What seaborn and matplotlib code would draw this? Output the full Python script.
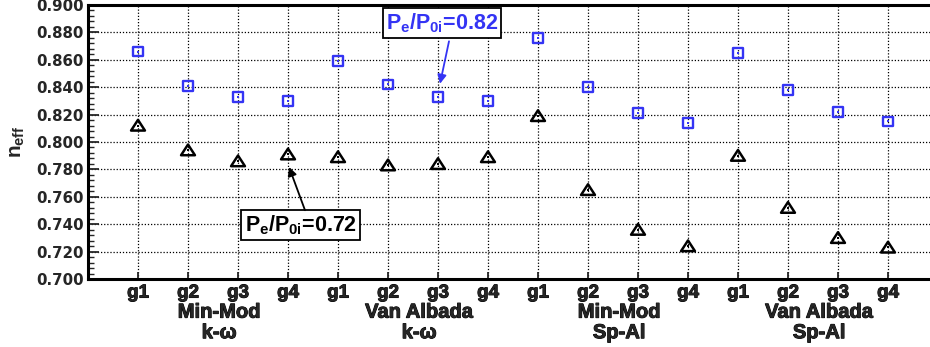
import numpy as np
import pandas as pd
import matplotlib
matplotlib.use("Agg")
import matplotlib.pyplot as plt
import matplotlib.patheffects as pe
import seaborn as sns
from matplotlib.ticker import MultipleLocator, FormatStrFormatter
from matplotlib.path import Path

# ---------------- data ----------------
grid_labels = ["g1", "g2", "g3", "g4"] * 4
group_labels = ["Min-Mod\nk-\u03c9", "Van Albada\nk-\u03c9", "Min-Mod\nSp-Al", "Van Albada\nSp-Al"]
neff_082 = [0.866, 0.841, 0.833, 0.830,
            0.859, 0.842, 0.833, 0.830,
            0.876, 0.840, 0.821, 0.814,
            0.865, 0.838, 0.822, 0.815]
neff_072 = [0.812, 0.794, 0.786, 0.791,
            0.789, 0.783, 0.784, 0.789,
            0.819, 0.765, 0.736, 0.724,
            0.790, 0.752, 0.730, 0.723]
label_082 = r"$P_e/P_{0i}$=0.82"
label_072 = r"$P_e/P_{0i}$=0.72"

positions = np.arange(1, len(grid_labels) + 1)
df = pd.DataFrame({
    "pos": np.concatenate([positions, positions]),
    "neff": neff_082 + neff_072,
    "case": ["0.82"] * len(positions) + ["0.72"] * len(positions),
})

# ---------------- style ----------------
sns.set_theme(style="white")
plt.rcParams["font.family"] = ["Liberation Sans", "DejaVu Sans"]
plt.rcParams["font.weight"] = "bold"
plt.rcParams["mathtext.fontset"] = "custom"
plt.rcParams["mathtext.rm"] = "Liberation Sans:bold"
plt.rcParams["mathtext.it"] = "Liberation Sans:bold"
plt.rcParams["mathtext.bf"] = "Liberation Sans:bold"

BLUE = "#3434f4"
heavy = [pe.withStroke(linewidth=0.7, foreground="black")]

fig = plt.figure(figsize=(9.3, 3.47), dpi=100)
ax_w_px = 850.0
ax = fig.add_axes([88 / 930, 68 / 347, ax_w_px / 930, 274 / 347])

# triangle marker (wider than tall)
tri = Path([(-1.0, -0.72), (1.0, -0.72), (0.0, 0.82), (-1.0, -0.72)],
           [Path.MOVETO, Path.LINETO, Path.LINETO, Path.CLOSEPOLY])

d82 = df[df["case"] == "0.82"]
d72 = df[df["case"] == "0.72"]

sns.scatterplot(data=d82, x="pos", y="neff", marker="s", s=50, color=BLUE,
                edgecolor=BLUE, linewidth=1.7, ax=ax, legend=False, zorder=5)
ax.collections[-1].set_facecolor("none")
ax.collections[-1].set_edgecolor(BLUE)

sns.scatterplot(data=d72, x="pos", y="neff", marker=tri, s=100, color="black",
                edgecolor="black", linewidth=1.8, ax=ax, legend=False, zorder=5)
ax.collections[-1].set_facecolor("none")
ax.collections[-1].set_edgecolor("black")

# little center dots
sns.scatterplot(data=d82, x="pos", y="neff", marker="s", s=2, color=BLUE,
                edgecolor=BLUE, linewidth=0, ax=ax, legend=False, zorder=6)
sns.scatterplot(data=d72, x="pos", y="neff", marker="s", s=2, color="black",
                edgecolor="black", linewidth=0, ax=ax, legend=False, zorder=6)

# ---------------- axes ----------------
ax.set_xlim(0, ax_w_px / 50.0)
ax.set_ylim(0.700, 0.900)
ax.set_xticks(positions)
ax.set_xticklabels(grid_labels, fontsize=13.5, fontweight="bold")
for lbl in ax.get_xticklabels():
    lbl.set_path_effects(heavy)
ax.yaxis.set_major_locator(MultipleLocator(0.02))
ax.yaxis.set_minor_locator(MultipleLocator(0.004))
ax.yaxis.set_major_formatter(FormatStrFormatter("%.3f"))

ax.tick_params(axis="y", which="major", direction="in", length=8, width=1.3,
               left=True, pad=3, labelsize=10.8)
ax.tick_params(axis="y", which="minor", direction="in", length=4, width=1.0, left=True)
ax.tick_params(axis="x", which="major", direction="in", length=5, width=1.3,
               bottom=True, pad=4)
for lbl in ax.get_yticklabels():
    lbl.set_fontfamily("DejaVu Sans")
    lbl.set_fontweight("bold")

ax.grid(True, which="major", color="black", linestyle=(0, (1, 1.5)), linewidth=0.9)
ax.set_axisbelow(True)

for side in ["left", "bottom", "top"]:
    ax.spines[side].set_visible(True)
    ax.spines[side].set_color("black")
    ax.spines[side].set_linewidth(2.2)
ax.spines["right"].set_visible(False)

ax.set_xlabel("")
ax.set_ylabel(r"$n_{eff}$", fontsize=15)
ax.yaxis.set_label_coords((27 - 88) / ax_w_px, 0.5)

# group labels below tick labels
for i, g in enumerate(group_labels):
    top, bottom = g.split("\n")
    xc = 4 * i + 2.5 + 0.12
    ax.text(xc, -0.121, top, transform=ax.get_xaxis_transform(), ha="center",
            va="center", fontsize=14.5, fontweight="bold", path_effects=heavy)
    ax.text(xc, -0.196, bottom, transform=ax.get_xaxis_transform(), ha="center",
            va="center", fontsize=14.5, fontweight="bold", path_effects=heavy)

# ---------------- annotations ----------------
ax.text(7.08, 0.8868, label_082, color=BLUE, fontsize=15.5, ha="center", va="center",
        zorder=10, bbox=dict(boxstyle="square,pad=0.15", fc="white", ec="black", lw=1.3))
ax.annotate("", xy=(7.04, 0.8425), xytext=(7.22, 0.8735),
            arrowprops=dict(arrowstyle="-|>", color=BLUE, lw=1.3, mutation_scale=13,
                            shrinkA=0, shrinkB=0), zorder=10)

ax.text(4.25, 0.7392, label_072, color="black", fontsize=15.5, ha="center", va="center",
        zorder=10, bbox=dict(boxstyle="square,pad=0.15", fc="white", ec="black", lw=1.3))
ax.annotate("", xy=(4.02, 0.7818), xytext=(4.34, 0.7502),
            arrowprops=dict(arrowstyle="-|>", color="black", lw=1.3, mutation_scale=13,
                            shrinkA=0, shrinkB=0), zorder=10)

fig.savefig("out.png", dpi=100)
